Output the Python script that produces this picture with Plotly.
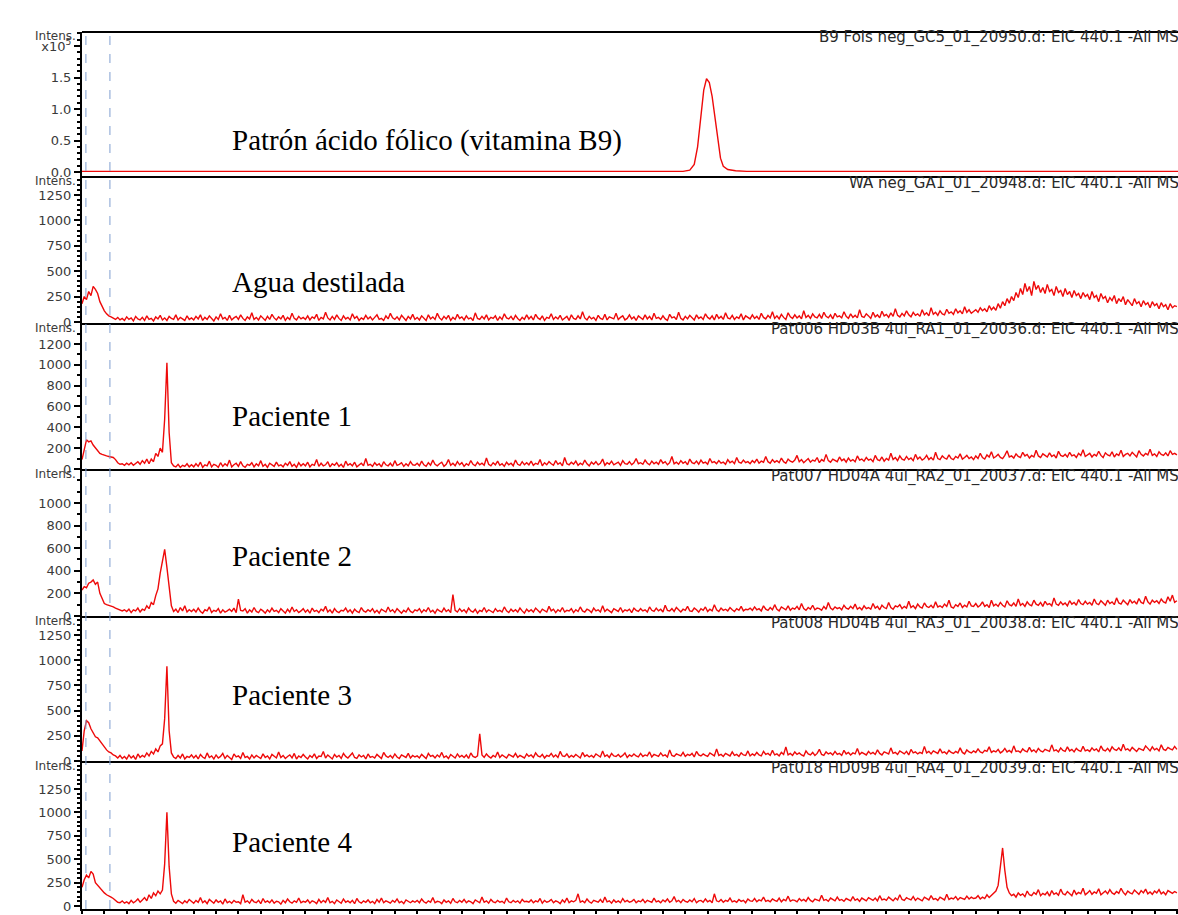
import plotly.graph_objects as go

# ---------------- DATA ----------------
STEP = 0.02  # min, sampling interval of the EIC traces

std_time = [0.0, 5.38, 5.44, 5.48, 5.51, 5.54, 5.565, 5.59, 5.615, 5.64, 5.665, 5.69, 5.715, 5.74, 5.78, 5.85, 5.95, 9.81]
std_int = [0.01, 0.01, 0.03, 0.12, 0.40, 0.85, 1.30, 1.48, 1.42, 1.20, 0.85, 0.50, 0.22, 0.09, 0.04, 0.02, 0.01, 0.01]  # x10^5

agua = [
    180, 250, 220, 300, 260, 350, 320, 280, 200, 150, 110, 80, 60, 50, 40, 25, 45, 20, 35, 15,
    50, 25, 40, 10, 55, 30, 20, 45, 15, 60, 25, 35, 10, 50, 30, 65, 20, 40, 15, 55,
    35, 25, 70, 20, 45, 30, 15, 60, 25, 40,
    20, 55, 30, 70, 15, 45, 25, 60, 35, 10, 50, 25, 80, 30, 45, 15, 65, 20, 40, 55,
    25, 70, 35, 15, 50, 30, 90, 25, 45, 20, 60, 35, 15, 55, 25, 75, 40, 20, 50, 30,
    65, 15, 45, 25, 85, 35, 20, 55, 30, 45,
    25, 60, 20, 50, 35, 75, 15, 45, 30, 95, 40, 20, 55, 25, 70, 35, 15, 60, 30, 45,
    20, 80, 35, 55, 15, 40, 25, 65, 30, 50, 20, 45, 70, 25, 35, 15, 60, 30, 85, 40,
    25, 50, 20, 65, 35, 15, 55, 30, 75, 25,
    45, 20, 60, 35, 15, 70, 30, 50, 25, 85, 40, 20, 55, 30, 65, 15, 45, 25, 75, 35,
    50, 20, 60, 30, 40, 15, 90, 35, 25, 55, 30, 70, 20, 45, 35, 60, 15, 50, 25, 80,
    40, 30, 55, 20, 65, 35, 15, 45, 25, 70,
    30, 55, 20, 75, 40, 25, 60, 15, 45, 35, 80, 25, 50, 30, 65, 20, 40, 55, 15, 70,
    35, 25, 60, 30, 100, 40, 20, 55, 30, 45, 15, 65, 35, 25, 75, 20, 50, 40, 30, 85,
    25, 45, 60, 20, 35, 70, 30, 50, 15, 60,
    40, 25, 70, 30, 55, 20, 85, 35, 45, 25, 60, 30, 15, 75, 40, 50, 25, 95, 35, 20,
    55, 30, 65, 40, 20, 70, 35, 50, 25, 80, 45, 30, 60, 20, 75, 35, 55, 25, 90, 40,
    30, 65, 25, 50, 35, 80, 20, 60, 40, 30,
    70, 35, 55, 25, 85, 45, 30, 65, 40, 100, 35, 60, 30, 75, 45, 25, 90, 50, 35, 70,
    40, 60, 30, 110, 45, 65, 35, 80, 50, 40, 75, 35, 95, 55, 40, 70, 30, 85, 50, 60,
    40, 100, 55, 35, 80, 45, 65, 40, 120, 55,
    45, 80, 60, 35, 95, 50, 70, 40, 105, 60, 75, 45, 90, 55, 130, 65, 50, 85, 60, 110,
    70, 50, 95, 65, 80, 55, 120, 70, 90, 60, 140, 75, 95, 65, 110, 80, 70, 125, 85, 100,
    75, 130, 90, 110, 80, 150, 95, 120, 85, 105,
    120, 95, 140, 110, 130, 100, 160, 120, 145, 115, 180, 135, 200, 160, 230, 185, 250, 210, 290, 240,
    330, 270, 380, 300, 350, 260, 400, 320, 360, 290, 340, 280, 370, 300, 320, 260, 350, 290, 310, 250,
    330, 270, 300, 240, 310, 260, 280, 230, 290, 250,
    270, 220, 300, 240, 260, 200, 280, 230, 250, 190, 240, 210, 260, 180, 230, 200, 250, 170, 220, 190,
    160, 230, 180, 200, 150, 210, 170, 190, 140, 200, 160, 180, 130, 190, 150, 170, 120, 180, 140, 160,
    150,
]

paciente1 = [
    90, 200, 280, 260, 270, 230, 200, 170, 150, 140, 130, 125, 120, 115, 110, 90, 60, 45, 50, 35,
    55, 40, 60, 35, 50, 70, 45, 80, 55, 95, 50, 95, 70, 150, 120, 200, 160, 480, 1020, 350,
    60, 30, 20, 45, 15, 35, 25, 50, 20, 40,
    20, 50, 25, 65, 15, 40, 30, 75, 20, 45, 35, 15, 60, 25, 50, 30, 85, 20, 40, 55,
    25, 70, 30, 15, 45, 35, 60, 20, 50, 30, 80, 25, 45, 15, 55, 35, 25, 65, 30, 40,
    20, 55, 35, 70, 25, 45, 15, 60, 30, 50,
    30, 65, 20, 45, 35, 90, 25, 55, 30, 40, 70, 20, 50, 35, 60, 25, 45, 15, 75, 35,
    50, 30, 65, 20, 40, 55, 30, 100, 35, 45, 25, 60, 35, 50, 20, 70, 40, 30, 55, 25,
    80, 35, 45, 60, 25, 50, 30, 70, 40, 35,
    55, 30, 75, 40, 25, 60, 35, 85, 45, 30, 50, 65, 25, 45, 90, 35, 55, 30, 70, 40,
    60, 25, 50, 35, 80, 45, 30, 65, 40, 55, 35, 105, 45, 30, 60, 40, 75, 35, 50, 25,
    65, 40, 55, 30, 85, 45, 35, 70, 40, 60,
    40, 75, 35, 55, 45, 90, 30, 60, 40, 70, 50, 35, 80, 45, 60, 30, 110, 50, 40, 65,
    45, 75, 35, 55, 40, 85, 50, 30, 65, 45, 70, 40, 55, 95, 35, 60, 45, 75, 40, 55,
    65, 35, 80, 50, 45, 70, 40, 60, 100, 50,
    60, 45, 85, 55, 40, 75, 50, 65, 45, 90, 55, 70, 40, 60, 120, 50, 65, 45, 80, 55,
    70, 40, 95, 60, 50, 75, 45, 85, 55, 65, 45, 100, 60, 70, 50, 80, 55, 65, 45, 90,
    60, 75, 50, 110, 65, 55, 85, 60, 70, 50,
    80, 60, 95, 55, 75, 65, 120, 70, 55, 90, 65, 80, 60, 105, 70, 55, 95, 75, 65, 85,
    130, 70, 90, 60, 80, 100, 65, 85, 75, 110, 60, 90, 75, 140, 80, 65, 95, 85, 70, 115,
    80, 95, 65, 105, 75, 90, 70, 125, 85, 95,
    75, 110, 85, 95, 70, 130, 90, 80, 115, 75, 100, 85, 150, 90, 110, 80, 125, 95, 85, 120,
    90, 105, 80, 140, 95, 115, 85, 100, 130, 90, 110, 85, 160, 100, 90, 125, 105, 95, 135, 100,
    90, 120, 105, 145, 95, 110, 130, 100, 115, 90,
    125, 100, 150, 110, 95, 135, 115, 165, 105, 120, 140, 110, 100, 130, 175, 115, 125, 105, 145, 120,
    110, 160, 125, 140, 105, 130, 115, 180, 125, 110, 145, 130, 115, 155, 120, 135, 105, 170, 130, 120,
    140, 115, 160, 125, 135, 110, 150, 130, 185, 120,
    135, 150, 115, 140, 125, 170, 130, 110, 155, 135, 125, 165, 115, 145, 130, 180, 120, 140, 150, 125,
    160, 135, 115, 175, 140, 125, 150, 135, 190, 130, 145, 120, 165, 140, 130, 155, 125, 175, 140, 150,
    135,
]

paciente2 = [
    230, 260, 250, 290, 300, 320, 280, 300, 200, 150, 110, 100, 95, 90, 80, 70, 60, 50, 45, 55,
    40, 60, 30, 55, 45, 70, 35, 60, 50, 90, 65, 120, 100, 180, 240, 380, 470, 590, 430, 250,
    90, 40, 60, 30, 75, 45, 90, 35, 55, 40,
    60, 35, 70, 40, 25, 55, 45, 80, 30, 50, 40, 65, 25, 55, 35, 45, 60, 40, 70, 30,
    150, 50, 45, 65, 25, 55, 35, 75, 40, 30, 60, 45, 25, 55, 35, 70, 40, 50, 30, 65,
    45, 25, 60, 35, 80, 40, 55, 30, 45, 65,
    35, 55, 25, 70, 40, 50, 30, 60, 45, 85, 35, 55, 25, 65, 40, 30, 50, 45, 70, 35,
    55, 25, 60, 40, 30, 75, 45, 35, 55, 40, 65, 30, 50, 25, 60, 45, 35, 80, 40, 55,
    30, 65, 45, 25, 50, 35, 70, 40, 30, 55,
    45, 65, 30, 55, 40, 75, 35, 50, 25, 60, 45, 35, 70, 40, 55, 30, 190, 50, 35, 65,
    40, 55, 30, 70, 45, 35, 60, 25, 50, 40, 75, 35, 55, 45, 30, 65, 40, 50, 35, 80,
    45, 30, 60, 40, 55, 35, 70, 45, 25, 60,
    40, 55, 35, 70, 45, 30, 60, 50, 35, 85, 45, 60, 30, 55, 40, 75, 35, 50, 45, 65,
    30, 55, 40, 80, 45, 35, 60, 50, 30, 70, 45, 55, 35, 90, 40, 60, 45, 30, 65, 50,
    40, 75, 35, 55, 45, 60, 30, 70, 50, 40,
    65, 45, 55, 35, 80, 50, 40, 70, 45, 60, 35, 95, 50, 45, 65, 40, 75, 55, 35, 60,
    50, 85, 45, 40, 70, 55, 35, 65, 50, 80, 40, 60, 45, 100, 55, 40, 70, 50, 60, 45,
    75, 55, 40, 65, 50, 85, 45, 60, 55, 70,
    50, 80, 55, 65, 45, 90, 60, 50, 75, 55, 100, 60, 45, 80, 65, 55, 90, 50, 70, 60,
    85, 55, 110, 65, 50, 75, 60, 95, 55, 70, 65, 50, 85, 60, 120, 70, 55, 80, 65, 75,
    55, 95, 70, 60, 85, 65, 105, 60, 75, 55,
    90, 65, 75, 60, 110, 70, 85, 55, 95, 75, 65, 120, 75, 60, 90, 80, 100, 65, 85, 70,
    130, 75, 90, 65, 105, 80, 70, 115, 85, 75, 95, 70, 125, 80, 90, 75, 105, 85, 140, 80,
    70, 100, 85, 115, 75, 95, 80, 130, 90, 85,
    110, 80, 95, 125, 85, 100, 75, 140, 90, 105, 85, 120, 95, 80, 135, 100, 90, 115, 85, 150,
    95, 110, 85, 125, 100, 90, 140, 105, 95, 120, 85, 130, 100, 110, 90, 160, 105, 95, 125, 100,
    115, 90, 135, 105, 120, 95, 145, 110, 100, 130,
    105, 120, 95, 150, 110, 100, 135, 115, 95, 140, 110, 125, 100, 160, 115, 105, 140, 120, 100, 145,
    115, 130, 105, 155, 120, 110, 175, 125, 105, 140, 120, 135, 110, 150, 125, 115, 170, 130, 185, 120,
    135,
]

paciente3 = [
    100, 300, 400, 380, 320, 280, 240, 230, 200, 170, 130, 110, 90, 80, 60, 50, 30, 55, 25, 45,
    20, 60, 30, 50, 15, 70, 35, 55, 40, 80, 50, 95, 70, 120, 90, 150, 170, 420, 940, 300,
    80, 40, 25, 55, 30, 70, 20, 45, 35, 60,
    30, 55, 20, 65, 40, 25, 80, 35, 50, 20, 60, 30, 45, 75, 25, 55, 35, 15, 70, 40,
    50, 25, 85, 35, 45, 20, 60, 30, 55, 40, 25, 70, 35, 50, 20, 65, 45, 30, 90, 35,
    55, 25, 45, 60, 30, 75, 20, 50, 35, 65,
    40, 20, 55, 35, 70, 25, 50, 45, 95, 30, 60, 35, 20, 65, 40, 55, 25, 75, 45, 30,
    50, 80, 35, 25, 60, 40, 55, 20, 70, 35, 45, 30, 65, 40, 25, 85, 50, 35, 55, 30,
    70, 40, 25, 60, 45, 35, 75, 30, 55, 40,
    50, 30, 65, 40, 25, 75, 45, 55, 30, 60, 40, 85, 35, 50, 25, 65, 45, 30, 70, 40,
    55, 35, 60, 25, 80, 45, 35, 50, 270, 60, 35, 70, 45, 30, 55, 40, 90, 35, 60, 45,
    30, 65, 50, 40, 75, 35, 55, 45, 30, 70,
    45, 60, 35, 80, 50, 40, 65, 30, 55, 45, 75, 40, 60, 35, 95, 50, 45, 70, 35, 55,
    40, 65, 50, 30, 85, 45, 60, 40, 55, 35, 70, 50, 40, 100, 45, 60, 35, 75, 50, 45,
    65, 40, 55, 80, 35, 60, 45, 70, 50, 40,
    75, 45, 60, 50, 90, 40, 65, 55, 45, 80, 50, 60, 40, 110, 55, 45, 70, 60, 50, 85,
    45, 65, 55, 75, 40, 95, 60, 50, 70, 55, 45, 80, 60, 50, 120, 55, 65, 45, 75, 60,
    50, 90, 55, 65, 45, 80, 60, 55, 100, 50,
    70, 55, 85, 60, 50, 95, 65, 75, 55, 105, 60, 70, 50, 85, 65, 140, 60, 75, 55, 90,
    65, 80, 60, 50, 100, 70, 60, 85, 55, 75, 115, 65, 55, 90, 70, 80, 60, 95, 65, 75,
    55, 105, 70, 85, 60, 80, 70, 125, 65, 85,
    75, 60, 95, 70, 85, 65, 110, 75, 60, 90, 80, 70, 130, 75, 85, 65, 100, 80, 70, 95,
    60, 115, 80, 90, 70, 85, 75, 145, 80, 95, 70, 100, 85, 75, 120, 80, 90, 70, 105, 85,
    75, 95, 80, 130, 85, 70, 110, 90, 80, 100,
    85, 120, 90, 80, 105, 95, 140, 85, 100, 90, 115, 80, 95, 125, 90, 105, 85, 150, 95, 100,
    85, 120, 100, 90, 135, 95, 110, 85, 125, 100, 90, 115, 105, 95, 160, 100, 110, 90, 130, 105,
    95, 140, 100, 115, 90, 125, 105, 95, 145, 100,
    110, 95, 130, 105, 120, 90, 150, 110, 100, 125, 95, 140, 115, 105, 130, 100, 165, 110, 120, 100,
    135, 110, 95, 125, 115, 105, 150, 120, 100, 140, 110, 125, 100, 160, 115, 105, 135, 120, 110, 145,
    115,
]

paciente4 = [
    200, 280, 330, 300, 370, 340, 250, 220, 200, 170, 140, 120, 110, 95, 80, 60, 40, 35, 55, 30,
    45, 25, 60, 35, 50, 75, 40, 65, 90, 55, 120, 80, 140, 110, 160, 130, 170, 450, 1000, 420,
    130, 50, 30, 60, 40, 25, 55, 35, 70, 45,
    30, 60, 40, 90, 35, 55, 25, 70, 45, 30, 65, 40, 55, 20, 75, 35, 50, 30, 60, 40,
    45, 25, 120, 40, 55, 30, 70, 45, 35, 60, 25, 80, 40, 55, 35, 65, 30, 50, 45, 20,
    60, 35, 75, 45, 30, 55, 40, 85, 35, 50,
    40, 65, 30, 55, 45, 25, 70, 35, 60, 40, 90, 35, 50, 25, 65, 45, 30, 75, 40, 55,
    35, 60, 25, 80, 45, 30, 55, 40, 65, 35, 50, 25, 70, 40, 85, 35, 55, 45, 30, 60,
    40, 75, 35, 50, 25, 65, 45, 35, 55, 40,
    60, 35, 75, 45, 30, 55, 40, 90, 35, 50, 45, 25, 65, 40, 55, 30, 80, 45, 35, 60,
    40, 70, 35, 55, 45, 25, 65, 50, 35, 95, 40, 55, 30, 70, 45, 35, 60, 40, 50, 30,
    85, 45, 35, 60, 40, 55, 30, 70, 45, 50,
    40, 65, 35, 55, 45, 80, 30, 60, 40, 50, 70, 35, 55, 45, 25, 65, 40, 85, 35, 55,
    45, 60, 130, 40, 55, 35, 75, 45, 30, 60, 50, 40, 70, 35, 95, 45, 55, 30, 65, 40,
    55, 35, 80, 45, 60, 40, 50, 70, 35, 55,
    45, 70, 35, 60, 50, 40, 85, 45, 55, 35, 65, 45, 75, 40, 55, 100, 45, 60, 35, 70,
    50, 40, 65, 45, 80, 35, 55, 60, 40, 75, 45, 60, 35, 130, 55, 45, 70, 40, 60, 50,
    85, 45, 55, 40, 70, 50, 60, 35, 75, 55,
    50, 80, 45, 65, 55, 95, 50, 60, 45, 75, 60, 50, 85, 45, 70, 55, 105, 50, 65, 60,
    45, 80, 55, 70, 50, 90, 60, 45, 75, 65, 55, 115, 60, 70, 50, 85, 65, 55, 95, 60,
    70, 50, 80, 65, 55, 100, 60, 75, 50, 85,
    65, 55, 90, 70, 60, 85, 55, 110, 65, 75, 60, 95, 70, 55, 85, 65, 120, 70, 60, 90,
    75, 65, 100, 60, 85, 70, 55, 95, 75, 65, 110, 70, 80, 60, 95, 75, 65, 125, 70, 85,
    75, 100, 65, 90, 80, 70, 105, 75, 95, 80,
    85, 110, 75, 95, 80, 120, 90, 110, 130, 160, 220, 420, 620, 380, 200, 140, 110, 125, 95, 140,
    115, 130, 100, 160, 120, 110, 145, 125, 175, 110, 135, 120, 150, 105, 165, 125, 140, 115, 180, 130,
    120, 155, 135, 110, 170, 125, 145, 130, 190, 120,
    140, 165, 125, 150, 135, 185, 120, 145, 160, 130, 175, 140, 125, 155, 135, 190, 145, 120, 160, 140,
    130, 170, 150, 125, 165, 140, 180, 130, 150, 125, 160, 140, 175, 130, 150, 120, 165, 145, 135, 155,
    140,
]

sample_names = ["Patrón ácido fólico (vitamina B9)", "Agua destilada", "Paciente 1",
                "Paciente 2", "Paciente 3", "Paciente 4"]
file_labels = [
    "B9 Fols neg_GC5_01_20950.d: EIC 440.1 -All MS",
    "WA neg_GA1_01_20948.d: EIC 440.1 -All MS",
    "Pat006 HD03B 4ul_RA1_01_20036.d: EIC 440.1 -All MS",
    "Pat007 HD04A 4ul_RA2_01_20037.d: EIC 440.1 -All MS",
    "Pat008 HD04B 4ul_RA3_01_20038.d: EIC 440.1 -All MS",
    "Pat018 HD09B 4ul_RA4_01_20039.d: EIC 440.1 -All MS",
]
x_ticks = [0, 1, 2, 3, 4, 5, 6, 7, 8]
marker_lines = [0.035, 0.25]

# ---------------- LAYOUT HELPERS ----------------
W, H = 1178, 915
MT, MB, ML, MR = 0, 6, 82, 0
PH = H - MT - MB


def frac(py):
    return (PH - (py - MT)) / PH


panel_px = [(32, 177), (177, 324), (324, 470), (470, 617), (617, 762), (762, 909)]
y_ranges = [[-0.079, 2.222], [-20, 1427], [-10, 1392], [-9, 1292], [-10, 1428], [-32, 1538]]
y_tickvals = [[0, 0.5, 1.0, 1.5, 2.0], [0, 250, 500, 750, 1000, 1250], [0, 200, 400, 600, 800, 1000, 1200],
              [0, 200, 400, 600, 800, 1000], [0, 250, 500, 750, 1000, 1250], [0, 250, 500, 750, 1000, 1250]]
y_ticktext = [["0.0", "0.5", "1.0", "1.5", "x10<sup>5</sup>"]] + [[str(v) for v in tv] for tv in y_tickvals[1:]]
y_minor = [0.1, 50, 100, 100, 50, 50]
label_y = [140, 282, 416, 556, 695, 842]

LINE_COLOR = "#ee0a0a"
TICK_FONT = dict(family="DejaVu Sans", size=13, color="#3a3a3a")

series = [(std_time, std_int)]
for vals in (agua, paciente1, paciente2, paciente3, paciente4):
    series.append(([round(i * STEP, 2) for i in range(len(vals))], vals))

fig = go.Figure()
for k, (xs, ys) in enumerate(series):
    fig.add_trace(go.Scatter(
        x=xs, y=ys, mode="lines", xaxis="x", yaxis="y" if k == 0 else f"y{k+1}",
        line=dict(color=LINE_COLOR, width=1.4), showlegend=False, hoverinfo="skip"))

layout = dict(
    width=W, height=H,
    margin=dict(l=ML, r=MR, t=MT, b=MB, autoexpand=False),
    paper_bgcolor="white", plot_bgcolor="white",
    showlegend=False,
    xaxis=dict(
        anchor="y6", range=[0, 9.81], tickvals=x_ticks, ticks="outside", ticklen=3,
        tickwidth=1.5, tickcolor="black", showline=True, linecolor="black", linewidth=2,
        showgrid=False, zeroline=False, tickfont=TICK_FONT, automargin=False,
        minor=dict(dtick=0.2, tick0=0, ticks="outside", ticklen=3, tickcolor="black"),
    ),
)
shapes = []
annotations = []
for k in range(6):
    top, bot = panel_px[k]
    name = "yaxis" if k == 0 else f"yaxis{k+1}"
    layout[name] = dict(
        domain=[frac(bot), frac(top)], range=y_ranges[k], anchor="x",
        tickvals=y_tickvals[k], ticktext=y_ticktext[k], ticks="outside", ticklen=6,
        tickwidth=1.5, tickcolor="black", showline=True, linecolor="black", linewidth=2,
        showgrid=False, zeroline=False, tickfont=TICK_FONT, automargin=False,
        minor=dict(dtick=y_minor[k], tick0=0, ticks="outside", ticklen=3, tickcolor="black"),
    )
    shapes.append(dict(type="line", xref="paper", yref="paper", x0=0, x1=1.01,
                       y0=frac(top), y1=frac(top), line=dict(color="black", width=2)))
    annotations.append(dict(text="Intens.", xref="paper", yref="paper", x=-0.004, y=frac(top + 4),
                            xanchor="right", yanchor="middle", showarrow=False,
                            font=dict(family="DejaVu Sans", size=12, color="#3a3a3a")))
    annotations.append(dict(text=file_labels[k], xref="paper", yref="paper", x=1.0, xshift=3,
                            y=frac(top + 6), xanchor="right", yanchor="middle", showarrow=False,
                            font=dict(family="DejaVu Sans", size=15, color="#2a2a2a")))
    annotations.append(dict(text=sample_names[k], xref="paper", yref="paper",
                            x=(230 - ML) / (W - ML - MR), y=frac(label_y[k]),
                            xanchor="left", yanchor="middle", showarrow=False,
                            font=dict(family="Liberation Serif", size=29, color="black")))

for xv in marker_lines:
    shapes.append(dict(type="line", xref="x", yref="paper", x0=xv, x1=xv, y0=0, y1=frac(32),
                       line=dict(color="#7f9fd0", width=1, dash="dash")))

annotations.append(dict(text="Time [min]", xref="paper", yref="paper",
                        x=(1120 - ML) / (W - ML - MR), y=-0.002, xanchor="left", yanchor="top",
                        showarrow=False, font=TICK_FONT))

layout["shapes"] = shapes
layout["annotations"] = annotations
fig.update_layout(**layout)

fig.write_html("out.html", config={"displayModeBar": False},
               post_script="document.body.style.margin='0px';document.body.style.overflow='hidden';")
